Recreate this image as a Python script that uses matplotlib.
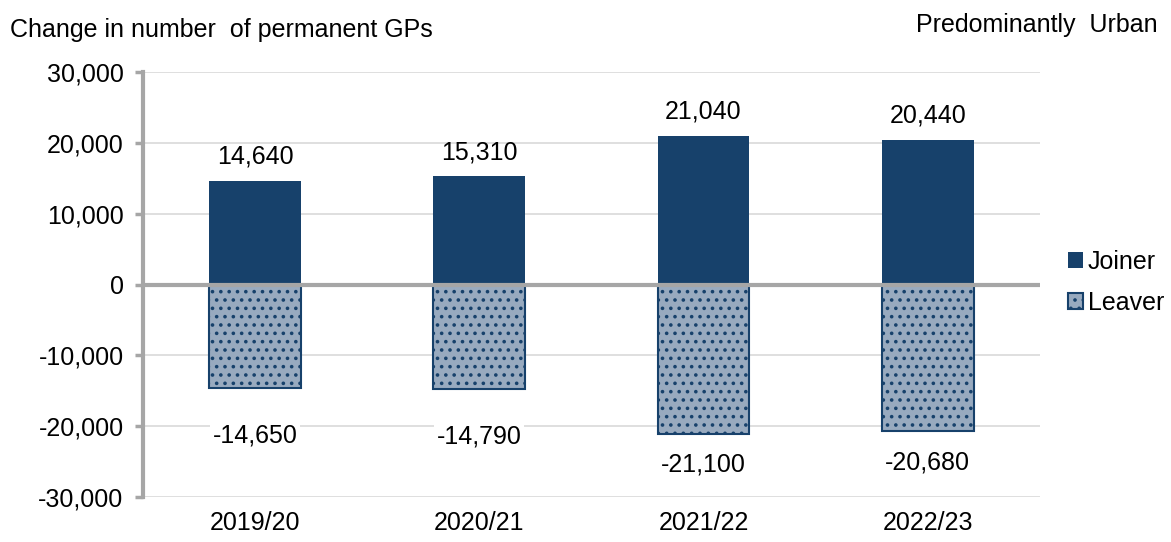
import matplotlib.pyplot as plt
import numpy as np

plt.rcParams['font.family'] = ['Liberation Sans', 'DejaVu Sans']

# data
years = ['2019/20', '2020/21', '2021/22', '2022/23']
joiners = [14640, 15310, 21040, 20440]
leavers = [-14650, -14790, -21100, -20680]

# label offsets (pixels) below the leaver bars, as placed in the original
leaver_offsets = [-47, -47, -31, -31]

navy = '#17416b'
grey = '#a6a6a6'

fig = plt.figure(figsize=(11.71, 5.42), dpi=100)
ax = fig.add_axes([0.1221, 0.083, 0.7659, 0.784])

x = np.arange(len(years))
w = 0.41

ax.bar(x, joiners, w, color=navy, zorder=3, label='Joiner')
plt.rcParams['hatch.linewidth'] = 1.4
ax.bar(x, leavers, w, facecolor='#98aabf', edgecolor=navy, hatch='..',
       linewidth=1.5, zorder=3, label='Leaver')

ax.set_xlim(-0.5, 3.5)
ax.set_ylim(-30000, 30000)
ax.set_yticks(np.arange(-30000, 30001, 10000))
ax.set_yticklabels([f'{v:,.0f}' for v in np.arange(-30000, 30001, 10000)])
ax.set_xticks(x)
ax.set_xticklabels(years)
ax.tick_params(axis='x', length=0, labelsize=18, pad=10)
ax.tick_params(axis='y', length=6, width=2.5, color=grey, labelsize=18, pad=8)

ax.grid(axis='y', color='#d9d9d9', linewidth=1.2, zorder=0)
ax.axhline(0, color=grey, linewidth=3, zorder=4)
for s in ['top', 'right', 'bottom']:
    ax.spines[s].set_visible(False)
ax.spines['left'].set_color(grey)
ax.spines['left'].set_linewidth(3)

for xi, v in zip(x, joiners):
    ax.annotate(f'{v:,}', (xi, v), xytext=(0, 24), textcoords='offset pixels',
                ha='center', va='center', fontsize=18, zorder=5)
for xi, v, off in zip(x, leavers, leaver_offsets):
    ax.annotate(f'{v:,}', (xi, v), xytext=(0, off), textcoords='offset pixels',
                ha='center', va='center', fontsize=18, zorder=5,
                bbox=dict(facecolor='white', edgecolor='none', pad=2))

fig.text(10 / 1171, 1 - 30 / 542, 'Change in number  of permanent GPs',
         fontsize=18, va='center', ha='left')
fig.text(1158 / 1171, 1 - 25 / 542, 'Predominantly  Urban',
         fontsize=18, va='center', ha='right')

ax.legend(loc='center left', bbox_to_anchor=(1.02, 0.505), frameon=False,
          fontsize=18, handlelength=0.6, handleheight=0.6, handletextpad=0.2,
          labelspacing=0.7, borderaxespad=0)

fig.savefig('out.png', dpi=100)
